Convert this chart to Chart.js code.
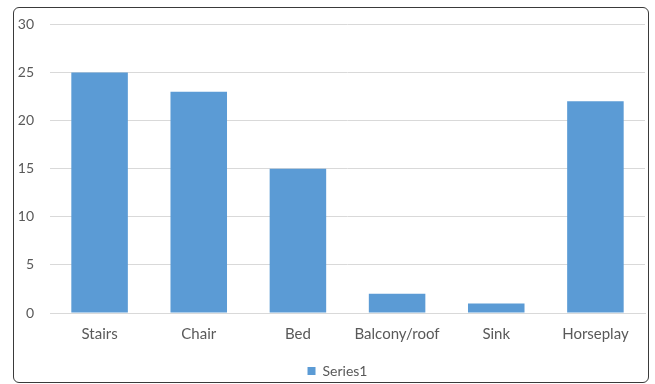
<!DOCTYPE html>
<html>
<head>
<meta charset="utf-8">
<script src="https://cdn.jsdelivr.net/npm/chart.js@4/dist/chart.umd.min.js"></script>
<style>
  html, body { margin: 0; padding: 0; background: #fff; }
  #wrap { position: relative; width: 655px; height: 384px; }
  #frame {
    position: absolute; left: 13px; top: 7px; width: 634px; height: 374px;
    border: 1px solid #3a3a3a; border-radius: 6px; pointer-events: none;
  }
  canvas { position: absolute; left: 0; top: 0; }
</style>
</head>
<body>
<div id="wrap">
  <canvas id="c" width="655" height="384"></canvas>
  <div id="frame"></div>
</div>
<script>
const categories = ["Stairs", "Chair", "Bed", "Balcony/roof", "Sink", "Horseplay"];
const series1 = [25, 23, 15, 2, 1, 22];
const yTicks = [0, 5, 10, 15, 20, 25, 30];

const labelColor = "#595959";
const family = "Lato, 'Open Sans', sans-serif";

// Centre the legend under the plot area rather than the full canvas
const legendOffset = {
  id: "legendOffset",
  afterLayout(chart) {
    if (chart.legend) chart.legend.left += 30;
  }
};

new Chart(document.getElementById("c"), {
  type: "bar",
  data: {
    labels: categories,
    datasets: [{
      label: "Series1",
      data: series1,
      backgroundColor: "#5B9BD5",
      borderWidth: 0,
      categoryPercentage: 1,
      barPercentage: 0.57
    }]
  },
  plugins: [legendOffset],
  options: {
    responsive: false,
    animation: false,
    devicePixelRatio: 1,
    layout: { autoPadding: false, padding: { top: 20, right: 10, left: 0, bottom: -4 } },
    plugins: {
      tooltip: { enabled: false },
      legend: {
        position: "bottom",
        labels: {
          color: labelColor,
          font: { family, size: 14 },
          boxWidth: 8,
          boxHeight: 8,
          padding: 0
        }
      }
    },
    scales: {
      x: {
        grid: { display: false, drawTicks: false },
        border: { display: true, color: "#d9d9d9", width: 1 },
        ticks: { color: labelColor, font: { family, size: 15 }, padding: 12, maxRotation: 0 },
        afterFit: (s) => { s.height = 51; }
      },
      y: {
        min: 0,
        max: 30,
        afterBuildTicks: (s) => { s.ticks = yTicks.map(v => ({ value: v })); },
        grid: { color: "#d9d9d9", drawTicks: false },
        border: { display: false },
        ticks: { color: labelColor, font: { family, size: 14 }, padding: 16 },
        afterFit: (s) => { s.width = 50; }
      }
    }
  }
});
</script>
</body>
</html>
